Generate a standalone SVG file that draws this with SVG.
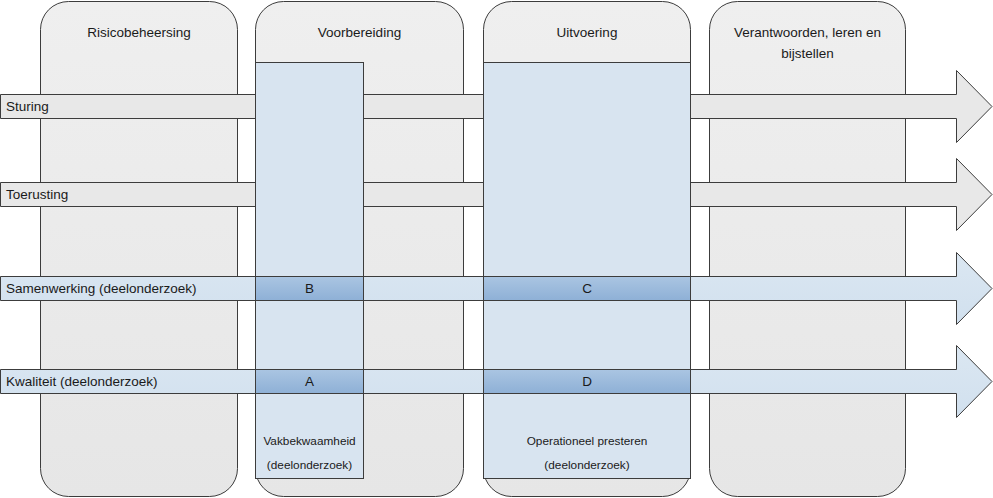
<svg xmlns="http://www.w3.org/2000/svg" width="993" height="498" viewBox="0 0 993 498">
<defs>
<linearGradient id="cellG" x1="0" y1="0" x2="0" y2="1">
<stop offset="0" stop-color="#aac5e2"/>
<stop offset="1" stop-color="#8eb0d6"/>
</linearGradient>
<linearGradient id="colG" x1="0" y1="0" x2="0" y2="1">
<stop offset="0" stop-color="#efefef"/>
<stop offset="1" stop-color="#e6e6e6"/>
</linearGradient>
<linearGradient id="blueArrowG" x1="0" y1="0" x2="0" y2="1">
<stop offset="0" stop-color="#dbe7f2"/>
<stop offset="1" stop-color="#d1e0ee"/>
</linearGradient>
</defs>
<style>
.col{fill:url(#colG);stroke:#3c3c3c;stroke-width:1}
.garrow{fill:#e8e8e8;stroke:#3c3c3c;stroke-width:1}
.barrow{fill:url(#blueArrowG);stroke:#3c3c3c;stroke-width:1}
.blue{fill:#d8e4f0;stroke:#3c3c3c;stroke-width:1}
.cell{fill:url(#cellG);stroke:#3c3c3c;stroke-width:1}
text{font-family:"Liberation Sans",Arial,sans-serif;fill:#1a1a1a}
.t{font-size:13.5px;text-anchor:middle}
.l{font-size:13.5px}
.s{font-size:11.8px;text-anchor:middle}
</style>
<g id="col-risicobeheersing">
<rect class="col" x="40.5" y="1.5" width="197" height="495" rx="28" ry="28"/>
<text class="t" x="139" y="37">Risicobeheersing</text>
</g>
<g id="col-voorbereiding">
<rect class="col" x="255.5" y="1.5" width="208" height="495" rx="28" ry="28"/>
<text class="t" x="359.5" y="37">Voorbereiding</text>
</g>
<g id="col-uitvoering">
<rect class="col" x="483.5" y="1.5" width="207" height="495" rx="28" ry="28"/>
<text class="t" x="587" y="37">Uitvoering</text>
</g>
<g id="col-verantwoorden">
<rect class="col" x="709.5" y="1.5" width="196" height="495" rx="28" ry="28"/>
<text class="t" x="807.5" y="37">Verantwoorden, leren en</text>
<text class="t" x="807.5" y="58">bijstellen</text>
</g>
<g id="connectors">
<path class="garrow" d="M0.5,94.5 H956.5 V70.5 L992,106.5 L956.5,142.5 V118.5 H0.5 Z"/>
<path class="garrow" d="M0.5,182.5 H956.5 V158.5 L992,194.5 L956.5,230.5 V206.5 H0.5 Z"/>
<path class="barrow" d="M0.5,276.5 H956.5 V252.5 L992,288.5 L956.5,324.5 V300.5 H0.5 Z"/>
<path class="barrow" d="M0.5,369.5 H956.5 V345.5 L992,381.5 L956.5,417.5 V393.5 H0.5 Z"/>
</g>
<g id="label-sturing"><text class="l" x="6" y="111">Sturing</text></g>
<g id="label-toerusting"><text class="l" x="6" y="199">Toerusting</text></g>
<g id="label-samenwerking"><text class="l" x="6" y="293">Samenwerking (deelonderzoek)</text></g>
<g id="label-kwaliteit"><text class="l" x="6" y="386">Kwaliteit (deelonderzoek)</text></g>
<g id="vakbekwaamheid">
<rect class="blue" x="255.5" y="62.5" width="108" height="416"/>
<text class="s" x="309.5" y="445">Vakbekwaamheid</text>
<text class="s" x="309.5" y="469">(deelonderzoek)</text>
</g>
<g id="operationeel">
<rect class="blue" x="483.5" y="62.5" width="207" height="416"/>
<text class="s" x="587" y="445">Operationeel presteren</text>
<text class="s" x="587" y="469">(deelonderzoek)</text>
</g>
<g id="cell-B">
<rect class="cell" x="255.5" y="276.5" width="108" height="24"/>
<text class="t" x="309.5" y="293">B</text>
</g>
<g id="cell-C">
<rect class="cell" x="483.5" y="276.5" width="207" height="24"/>
<text class="t" x="587" y="293">C</text>
</g>
<g id="cell-A">
<rect class="cell" x="255.5" y="369.5" width="108" height="24"/>
<text class="t" x="309.5" y="386">A</text>
</g>
<g id="cell-D">
<rect class="cell" x="483.5" y="369.5" width="207" height="24"/>
<text class="t" x="587" y="386">D</text>
</g>
</svg>
